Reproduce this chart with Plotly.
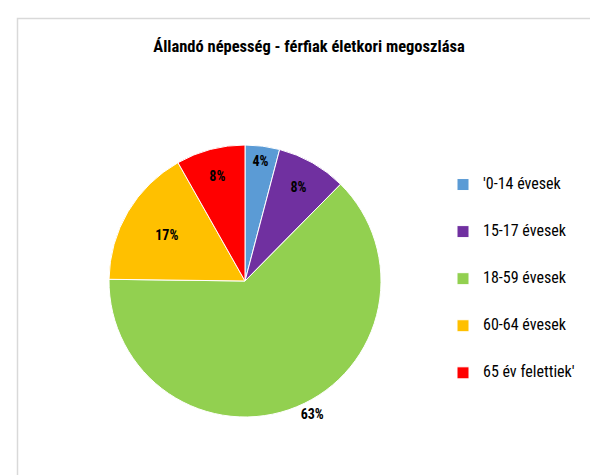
import plotly.graph_objects as go

categories = ["'0-14 évesek", "15-17 évesek", "18-59 évesek", "60-64 évesek", "65 év felettiek'"]
values = [4.1, 8.3, 62.8, 16.6, 8.2]
colors = ["#5B9BD5", "#7030A0", "#92D050", "#FFC000", "#FF0000"]
title_text = "Állandó népesség - férfiak életkori megoszlása"

W, H = 598, 475
FONT = "Liberation Sans Narrow, Arial Narrow, Roboto Condensed, Roboto, sans-serif"

# legend labels padded with blank lines to reproduce the wide legend spacing
legend_labels = ["\u00a0<br><span style='font-size:16px'>%s</span><br>\u00a0" % c for c in categories]

cx, cy, r = 237, 273, 136
fig = go.Figure(go.Pie(
    labels=legend_labels,
    values=values,
    sort=False,
    direction="clockwise",
    rotation=0,
    marker=dict(colors=colors, line=dict(color="white", width=1)),
    texttemplate="%{percent:.0%}",
    textposition=["inside", "inside", "outside", "inside", "inside"],
    insidetextorientation="horizontal",
    textfont=dict(family=FONT, size=14, color="black", weight="bold"),
    hoverinfo="label+percent",
    domain=dict(x=[(cx - r) / W, (cx + r) / W], y=[(H - cy - r) / H, (H - cy + r) / H]),
))

fig.update_layout(
    width=W, height=H,
    margin=dict(l=0, r=0, t=0, b=0),
    paper_bgcolor="white",
    title=dict(text=title_text, x=301 / W, y=(H - 38) / H, xanchor="center", yanchor="middle",
               font=dict(family=FONT, size=16.5, color="black", weight="bold")),
    legend=dict(x=435 / W, y=(H - 148) / H, xanchor="left", yanchor="top",
                font=dict(family=FONT, size=11.3, color="black"), valign="middle",
                bgcolor="rgba(0,0,0,0)"),
    shapes=[dict(type="rect", xref="paper", yref="paper", x0=9.5 / W, y0=-0.02, x1=1.02, y1=(H - 10.5) / H,
                 line=dict(color="#D9D9D9", width=1.5), fillcolor="rgba(0,0,0,0)", layer="below")],
)

fig.write_html("out.html")
